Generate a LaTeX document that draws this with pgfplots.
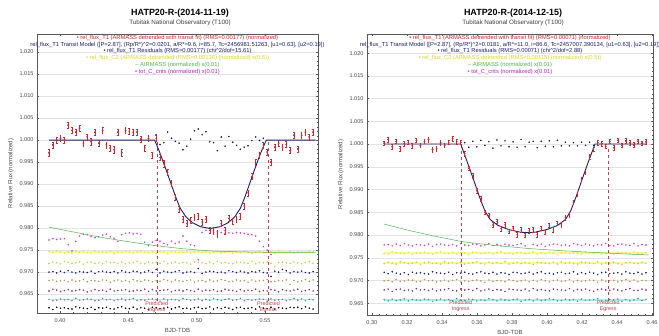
\documentclass[border=0pt]{standalone}
\usepackage{fontspec}
\setmainfont{Liberation Sans}
\usepackage{pgfplots}
\usepackage{pgfplotstable}
\pgfplotsset{compat=1.18}

\definecolor{tred}{RGB}{205,40,45}
\definecolor{tmodel}{RGB}{30,30,110}
\definecolor{tres}{RGB}{20,20,100}
\definecolor{cyel}{RGB}{232,232,20}
\definecolor{cyelband}{RGB}{248,248,160}
\definecolor{cgold}{RGB}{222,196,50}
\definecolor{cnavy}{RGB}{25,25,120}
\definecolor{ctan}{RGB}{170,150,90}
\definecolor{cpur}{RGB}{130,40,140}
\definecolor{cteal}{RGB}{40,160,160}
\definecolor{ctealband}{RGB}{175,235,235}
\definecolor{cmag}{RGB}{210,60,210}
\definecolor{cgreen}{RGB}{80,180,80}
\definecolor{cpred}{RGB}{180,70,70}
\definecolor{legyel}{RGB}{215,215,40}
\definecolor{legmag}{RGB}{170,40,190}

% ---------------- left night (2014-11-19) ----------------
\pgfplotstableread{
x t1 res y1 y2 nv tn pu te bk mg
0.3920 0.9971 0.9971 0.9747 0.9720 0.9700 0.9681 0.9657 0.9638 0.9619 0.9773
0.3948 0.9989 0.9989 0.9744 0.9723 0.9701 0.9682 0.9661 0.9635 0.9615 0.9776
0.3976 1.0000 1.0000 0.9748 0.9721 0.9698 0.9679 0.9659 0.9636 0.9620 0.9774
0.4004 1.0004 1.0004 0.9745 0.9719 0.9702 0.9680 0.9656 0.9639 0.9618 0.9775
0.4032 1.0000 1.0000 0.9743 0.9724 0.9699 0.9681 0.9658 0.9637 0.9619 0.9776
0.4060 1.0034 1.0034 0.9746 0.9722 0.9703 0.9678 0.9660 0.9638 0.9617 0.9762
0.4088 1.0022 1.0022 0.9742 0.9720 0.9700 0.9682 0.9657 0.9635 0.9616 0.9748
0.4116 1.0018 1.0018 0.9747 0.9721 0.9698 0.9679 0.9658 0.9640 0.9621 0.9770
0.4144 1.0027 1.0027 0.9745 0.9723 0.9701 0.9680 0.9660 0.9636 0.9619 0.9782
0.4172 0.9993 0.9993 0.9746 0.9718 0.9700 0.9683 0.9659 0.9637 0.9618 0.9786
0.4200 1.0007 1.0007 0.9744 0.9722 0.9699 0.9678 0.9655 0.9639 0.9617 0.9785
0.4228 0.9996 0.9996 0.9743 0.9723 0.9702 0.9681 0.9657 0.9638 0.9620 0.9781
0.4256 1.0018 1.0018 0.9748 0.9720 0.9697 0.9680 0.9660 0.9635 0.9615 0.9778
0.4284 0.9993 0.9993 0.9746 0.9721 0.9701 0.9679 0.9658 0.9636 0.9619 0.9780
0.4312 1.0022 1.0022 0.9745 0.9719 0.9702 0.9682 0.9659 0.9640 0.9618 0.9784
0.4340 0.9989 0.9989 0.9744 0.9724 0.9700 0.9681 0.9656 0.9637 0.9620 0.9786
0.4368 0.9982 0.9982 0.9747 0.9721 0.9699 0.9677 0.9661 0.9638 0.9617 0.9780
0.4396 0.9978 0.9978 0.9742 0.9722 0.9701 0.9680 0.9657 0.9635 0.9616 0.9777
0.4424 1.0018 1.0018 0.9746 0.9720 0.9698 0.9682 0.9658 0.9637 0.9619 0.9770
0.4452 0.9971 0.9971 0.9745 0.9723 0.9703 0.9679 0.9659 0.9639 0.9621 0.9785
0.4480 1.0022 1.0022 0.9747 0.9719 0.9700 0.9681 0.9660 0.9636 0.9618 0.9788
0.4508 1.0020 1.0020 0.9744 0.9721 0.9699 0.9678 0.9656 0.9638 0.9617 0.9789
0.4536 1.0018 1.0018 0.9743 0.9722 0.9702 0.9683 0.9657 0.9640 0.9620 0.9787
0.4564 1.0018 1.0018 0.9746 0.9724 0.9701 0.9680 0.9659 0.9635 0.9616 0.9788
0.4592 1.0002 1.0002 0.9748 0.9720 0.9698 0.9679 0.9658 0.9637 0.9619 0.9786
0.4620 0.9982 0.9982 0.9745 0.9719 0.9700 0.9682 0.9661 0.9636 0.9618 0.9768
0.4648 1.0004 1.0004 0.9744 0.9723 0.9703 0.9681 0.9656 0.9638 0.9615 0.9760
0.4676 0.9966 0.9966 0.9747 0.9721 0.9699 0.9678 0.9660 0.9639 0.9620 0.9768
0.4704 1.0004 1.0012 0.9743 0.9722 0.9706 0.9680 0.9657 0.9637 0.9619 0.9772
0.4732 0.9960 0.9990 0.9746 0.9720 0.9698 0.9679 0.9658 0.9634 0.9617 0.9770
0.4760 0.9946 0.9994 0.9745 0.9724 0.9702 0.9683 0.9659 0.9639 0.9618 0.9765
0.4788 0.9927 1.0018 0.9742 0.9719 0.9700 0.9681 0.9660 0.9636 0.9620 0.9762
0.4816 0.9902 1.0004 0.9747 0.9721 0.9699 0.9678 0.9655 0.9638 0.9616 0.9770
0.4844 0.9870 0.9997 0.9746 0.9723 0.9701 0.9682 0.9658 0.9637 0.9619 0.9765
0.4872 0.9843 0.9993 0.9744 0.9720 0.9703 0.9680 0.9659 0.9635 0.9621 0.9768
0.4900 0.9820 0.9978 0.9745 0.9722 0.9698 0.9679 0.9657 0.9640 0.9617 0.9782
0.4928 0.9810 0.9986 0.9747 0.9721 0.9700 0.9681 0.9660 0.9638 0.9618 0.9770
0.4956 0.9818 1.0002 0.9743 0.9718 0.9701 0.9682 0.9658 0.9636 0.9616 0.9762
0.4984 0.9825 1.0021 0.9746 0.9723 0.9699 0.9677 0.9656 0.9637 0.9619 0.9760
0.5012 0.9827 1.0025 0.9748 0.9722 0.9708 0.9680 0.9661 0.9639 0.9620 0.9728
0.5040 0.9814 1.0012 0.9744 0.9721 0.9697 0.9681 0.9657 0.9635 0.9617 0.9790
0.5068 0.9820 1.0019 0.9745 0.9720 0.9700 0.9678 0.9659 0.9638 0.9618 0.9795
0.5096 0.9795 0.9996 0.9743 0.9723 0.9702 0.9682 0.9658 0.9636 0.9621 0.9788
0.5124 0.9794 0.9994 0.9746 0.9719 0.9701 0.9679 0.9660 0.9640 0.9616 0.9790
0.5152 0.9787 0.9976 0.9747 0.9724 0.9699 0.9680 0.9656 0.9637 0.9619 0.9792
0.5180 0.9811 1.0007 0.9744 0.9721 0.9700 0.9683 0.9657 0.9635 0.9617 0.9790
0.5208 0.9794 0.9986 0.9745 0.9722 0.9698 0.9681 0.9661 0.9638 0.9620 0.9788
0.5236 0.9822 1.0008 0.9748 0.9720 0.9703 0.9678 0.9659 0.9639 0.9618 0.9789
0.5264 0.9816 0.9995 0.9743 0.9719 0.9701 0.9679 0.9658 0.9636 0.9615 0.9788
0.5292 0.9820 0.9988 0.9746 0.9723 0.9699 0.9682 0.9656 0.9637 0.9619 0.9790
0.5320 0.9827 0.9979 0.9744 0.9722 0.9702 0.9680 0.9660 0.9640 0.9620 0.9789
0.5348 0.9850 0.9984 0.9747 0.9721 0.9700 0.9681 0.9657 0.9635 0.9617 0.9788
0.5376 0.9880 0.9987 0.9745 0.9720 0.9698 0.9677 0.9659 0.9638 0.9618 0.9786
0.5404 0.9917 0.9999 0.9742 0.9724 0.9701 0.9682 0.9658 0.9636 0.9619 0.9785
0.5432 0.9950 1.0007 0.9746 0.9719 0.9700 0.9679 0.9661 0.9637 0.9616 0.9782
0.5460 0.9966 0.9999 0.9747 0.9722 0.9703 0.9680 0.9656 0.9639 0.9621 0.9770
0.5488 0.9989 1.0004 0.9744 0.9721 0.9699 0.9681 0.9658 0.9638 0.9618 0.9758
0.5516 0.9973 0.9973 0.9745 0.9723 0.9698 0.9683 0.9657 0.9634 0.9617 0.9750
0.5544 0.9950 0.9950 0.9746 0.9720 0.9690 0.9678 0.9660 0.9639 0.9620 0.9740
0.5572 0.9984 0.9984 0.9743 0.9712 0.9702 0.9679 0.9659 0.9636 0.9616 nan
0.5600 0.9993 0.9993 0.9748 0.9722 0.9700 0.9681 0.9655 0.9637 0.9619 nan
0.5628 0.9984 0.9984 0.9745 0.9723 0.9706 0.9680 0.9660 0.9638 0.9618 nan
0.5656 0.9990 0.9990 0.9744 0.9721 0.9703 0.9682 0.9658 0.9635 0.9617 nan
0.5684 0.9976 0.9976 0.9747 0.9720 0.9698 0.9672 0.9657 0.9637 0.9620 nan
0.5712 1.0011 1.0011 0.9743 0.9723 0.9701 0.9681 0.9659 0.9640 0.9619 nan
0.5740 0.9980 0.9980 0.9746 0.9721 0.9700 0.9678 0.9661 0.9636 0.9620 nan
0.5768 1.0011 1.0011 0.9745 0.9719 0.9702 0.9680 0.9656 0.9639 0.9617 nan
0.5796 1.0018 1.0018 0.9744 0.9722 0.9699 0.9683 0.9658 0.9635 0.9621 nan
0.5824 1.0007 1.0007 0.9747 0.9724 0.9698 0.9679 0.9660 0.9638 0.9618 nan
0.5852 1.0018 1.0018 0.9746 0.9720 0.9701 0.9682 0.9657 0.9637 0.9616 nan
}\lefttab

\pgfplotstableread{
x m
0.3920 1.0000
0.4693 1.0000
0.4730 0.9972
0.4770 0.9938
0.4810 0.9903
0.4850 0.9868
0.4880 0.9845
0.4920 0.9826
0.4970 0.9812
0.5030 0.9803
0.5100 0.9799
0.5170 0.9803
0.5230 0.9812
0.5280 0.9826
0.5320 0.9845
0.5350 0.9868
0.5390 0.9903
0.5430 0.9938
0.5470 0.9972
0.5510 1.0000
0.5870 1.0000
}\leftmodel

\pgfplotstableread{
x a
0.392 0.9802
0.410 0.9791
0.430 0.9779
0.450 0.9769
0.470 0.9760
0.490 0.9753
0.510 0.9748
0.530 0.9746
0.550 0.9745
0.587 0.9744
}\leftair

% ---------------- right night (2014-12-15) ----------------
\pgfplotstableread{
x t1 res mg y1 y2 nv tn pu te
0.3070 1.0002 1.0002 0.9778 0.9759 0.9737 0.9718 0.9699 0.9679 0.9658
0.3093 1.0010 1.0010 0.9779 0.9758 0.9740 0.9715 0.9700 0.9681 0.9655
0.3116 0.9994 0.9994 0.9776 0.9763 0.9738 0.9719 0.9697 0.9676 0.9659
0.3139 1.0006 1.0006 0.9780 0.9761 0.9736 0.9716 0.9702 0.9680 0.9656
0.3162 0.9990 0.9990 0.9777 0.9760 0.9741 0.9714 0.9698 0.9681 0.9657
0.3185 1.0001 1.0001 0.9781 0.9759 0.9739 0.9717 0.9699 0.9678 0.9660
0.3208 1.0004 1.0004 0.9778 0.9762 0.9737 0.9713 0.9701 0.9679 0.9655
0.3231 0.9996 0.9996 0.9776 0.9757 0.9738 0.9718 0.9700 0.9677 0.9658
0.3254 1.0008 1.0008 0.9779 0.9761 0.9740 0.9716 0.9697 0.9682 0.9657
0.3277 0.9997 0.9997 0.9778 0.9760 0.9735 0.9717 0.9698 0.9679 0.9656
0.3300 1.0006 1.0006 0.9777 0.9762 0.9739 0.9715 0.9702 0.9680 0.9659
0.3323 1.0010 1.0010 0.9780 0.9759 0.9740 0.9714 0.9699 0.9678 0.9658
0.3346 0.9988 0.9988 0.9775 0.9758 0.9737 0.9719 0.9700 0.9681 0.9654
0.3369 0.9990 0.9990 0.9779 0.9761 0.9738 0.9717 0.9697 0.9677 0.9657
0.3392 1.0003 1.0003 0.9780 0.9763 0.9736 0.9716 0.9699 0.9679 0.9659
0.3415 0.9997 0.9997 0.9778 0.9760 0.9741 0.9715 0.9701 0.9680 0.9656
0.3438 1.0004 1.0004 0.9777 0.9759 0.9738 0.9718 0.9698 0.9682 0.9658
0.3461 1.0012 1.0012 0.9779 0.9762 0.9739 0.9713 0.9700 0.9678 0.9655
0.3484 1.0005 1.0005 0.9776 0.9758 0.9737 0.9717 0.9702 0.9677 0.9660
0.3507 1.0004 1.0004 0.9781 0.9761 0.9740 0.9716 0.9697 0.9681 0.9657
0.3530 0.9979 1.0003 0.9778 0.9760 0.9736 0.9718 0.9699 0.9679 0.9656
0.3553 0.9947 0.9993 0.9777 0.9757 0.9738 0.9715 0.9698 0.9680 0.9659
0.3576 0.9930 1.0006 0.9780 0.9762 0.9739 0.9714 0.9700 0.9678 0.9658
0.3599 0.9897 0.9994 0.9779 0.9761 0.9741 0.9717 0.9701 0.9682 0.9655
0.3622 0.9880 1.0008 0.9776 0.9759 0.9737 0.9719 0.9699 0.9677 0.9657
0.3645 0.9850 0.9997 0.9778 0.9760 0.9736 0.9716 0.9696 0.9679 0.9656
0.3668 0.9843 1.0005 0.9781 0.9762 0.9740 0.9715 0.9701 0.9681 0.9660
0.3691 0.9822 0.9991 0.9777 0.9758 0.9738 0.9718 0.9698 0.9678 0.9658
0.3714 0.9830 1.0009 0.9779 0.9761 0.9739 0.9714 0.9700 0.9680 0.9655
0.3737 0.9814 0.9996 0.9776 0.9763 0.9737 0.9717 0.9699 0.9679 0.9659
0.3760 0.9822 1.0007 0.9780 0.9759 0.9741 0.9716 0.9697 0.9676 0.9657
0.3783 0.9808 0.9994 0.9778 0.9760 0.9736 0.9713 0.9702 0.9681 0.9656
0.3806 0.9815 1.0005 0.9777 0.9758 0.9738 0.9718 0.9700 0.9680 0.9658
0.3829 0.9801 0.9993 0.9779 0.9761 0.9740 0.9717 0.9698 0.9679 0.9659
0.3852 0.9811 1.0010 0.9781 0.9762 0.9737 0.9715 0.9699 0.9678 0.9654
0.3875 0.9799 0.9994 0.9776 0.9759 0.9739 0.9716 0.9701 0.9681 0.9657
0.3898 0.9809 1.0004 nan 0.9760 0.9738 0.9718 0.9697 0.9677 0.9658
0.3921 0.9812 1.0006 0.9779 0.9763 0.9735 0.9714 0.9700 0.9682 0.9655
0.3944 0.9801 0.9992 0.9777 0.9758 0.9740 0.9717 0.9698 0.9679 0.9659
0.3967 0.9815 1.0006 0.9780 0.9761 0.9739 0.9719 0.9702 0.9680 0.9656
0.3990 0.9806 0.9995 0.9775 0.9759 0.9738 0.9715 0.9699 0.9678 0.9657
0.4013 0.9821 1.0007 0.9778 0.9762 0.9737 0.9716 0.9697 0.9677 0.9660
0.4036 0.9811 0.9994 0.9780 0.9760 0.9740 0.9714 0.9700 0.9681 0.9658
0.4059 0.9826 1.0008 0.9779 0.9757 0.9736 0.9717 0.9701 0.9680 0.9655
0.4082 0.9823 0.9996 0.9777 0.9761 0.9741 0.9718 0.9698 0.9679 0.9656
0.4105 0.9838 1.0004 0.9778 0.9762 0.9738 0.9715 0.9699 0.9678 0.9659
0.4128 0.9844 0.9996 0.9776 0.9759 0.9739 0.9716 0.9702 0.9682 0.9657
0.4151 0.9872 1.0003 0.9781 0.9760 0.9737 0.9719 0.9697 0.9677 0.9658
0.4174 0.9890 0.9996 0.9779 0.9761 0.9736 0.9714 0.9700 0.9680 0.9654
0.4197 0.9923 1.0004 0.9777 0.9758 0.9740 0.9717 0.9698 0.9679 0.9659
0.4220 0.9938 0.9997 0.9780 0.9763 0.9739 0.9715 0.9699 0.9681 0.9656
0.4243 0.9972 1.0004 0.9778 0.9760 0.9738 0.9718 0.9701 0.9678 0.9657
0.4266 0.9989 0.9997 0.9776 0.9759 0.9737 0.9716 0.9700 0.9676 0.9658
0.4289 1.0003 1.0003 0.9779 0.9762 0.9741 0.9713 0.9696 0.9680 0.9660
0.4312 1.0001 1.0001 0.9778 0.9758 0.9736 0.9717 0.9701 0.9681 0.9655
0.4335 0.9995 0.9995 0.9781 0.9761 0.9739 0.9718 0.9698 0.9679 0.9656
0.4358 1.0006 1.0006 0.9777 0.9760 0.9738 0.9715 0.9699 0.9678 0.9658
0.4381 0.9992 0.9992 0.9776 0.9759 0.9740 0.9716 0.9700 0.9681 0.9657
0.4404 1.0008 1.0008 0.9779 0.9762 0.9737 0.9717 0.9697 0.9679 0.9659
0.4427 0.9997 0.9997 0.9780 0.9761 0.9735 0.9714 0.9699 0.9677 0.9654
0.4450 1.0007 1.0007 0.9778 0.9762 0.9739 0.9719 0.9702 0.9680 0.9658
0.4473 1.0003 1.0003 0.9777 0.9759 0.9740 0.9716 0.9698 0.9682 0.9655
0.4496 0.9998 0.9998 0.9781 0.9763 0.9738 0.9715 0.9701 0.9678 0.9657
0.4519 1.0006 1.0006 0.9776 0.9760 0.9737 0.9718 0.9697 0.9678 0.9660
0.4542 1.0002 1.0002 0.9779 0.9758 0.9740 0.9714 0.9700 0.9681 0.9656
0.4565 1.0005 1.0005 0.9778 0.9761 0.9738 0.9717 0.9699 0.9679 0.9659
}\righttab

\pgfplotstableread{
x m
0.3070 1.0000
0.3507 1.0000
0.3545 0.9960
0.3580 0.9922
0.3615 0.9883
0.3645 0.9853
0.3675 0.9834
0.3720 0.9821
0.3780 0.9812
0.3850 0.9806
0.3890 0.9805
0.3930 0.9806
0.4000 0.9812
0.4060 0.9821
0.4105 0.9834
0.4135 0.9853
0.4165 0.9883
0.4200 0.9922
0.4235 0.9960
0.4274 1.0000
0.4565 1.0000
}\rightmodel

\pgfplotstableread{
x a
0.307 0.9824
0.320 0.9811
0.335 0.9798
0.352 0.9785
0.370 0.9777
0.390 0.9770
0.410 0.9765
0.435 0.9760
0.458 0.9756
}\rightair

\pgfplotsset{
  lcstyle/.style={
    scale only axis, clip mode=individual,
    axis line style={gray!70!black, line width=0.4pt},
    tick style={gray!70!black, line width=0.3pt},
    major tick length=2.5pt, minor tick length=1.3pt,
    ymajorgrids, grid style={gray!22, line width=0.4pt},
    minor x tick num=4, minor y tick num=4,
    ytick={0.965,0.970,0.975,0.980,0.985,0.990,0.995,1.000,1.005,1.010,1.015,1.020},
    scaled ticks=false,
    /pgf/number format/assume math mode=true,
    yticklabel style={/pgf/number format/fixed, /pgf/number format/fixed zerofill, /pgf/number format/precision=3},
    xticklabel style={/pgf/number format/fixed, /pgf/number format/fixed zerofill, /pgf/number format/precision=2, yshift=-2pt},
    tick label style={font=\fontsize{5.6}{6}\selectfont, text=gray!60!black},
    label style={font=\fontsize{6}{7}\selectfont, text=gray!60!black},
    xlabel={BJD-TDB}, ylabel={Relative Flux (normalized)},
    xlabel style={yshift=0.5pt},
    ylabel style={yshift=-1pt},
  },
  dots/.style={only marks, mark=*, mark size=0.55pt, #1, mark options={draw=#1, fill=#1}},
}

\newcommand{\legL}{%
{\color{tred}\textbullet\ rel\_flux\_T1 (ARMASS detrended with transit fit) (RMS=0.00177) (normalized)}\\
{\color{tmodel}rel\_flux\_T1 Transit Model ([P=2.87], (Rp/R*)\^{}2=0.0201, a/R*=9.6, i=85.7, Tc=2456981.51263, [u1=0.63], [u2=0.19])}\\
{\color{tmodel}\textbullet\ rel\_flux\_T1 Residuals (RMS=0.00177) (chi\^{}2/dof=15.61)}\\
{\color{legyel}\textbullet\ rel\_flux\_C2 (ARMASS detrended (RMS=0.00136) (normalized) x(0.5))}\\
{\color{cgreen}-- AIRMASS (normalized) x(0.01)}\\
{\color{legmag}\textbullet\ tot\_C\_cnts (normalized) x(0.01)}}

\newcommand{\legR}{%
{\color{tred}\textbullet\ rel\_flux\_T1 (ARMASS detrended with transit fit) (RMS=0.00071) (normalized)}\\
{\color{tmodel}rel\_flux\_T1 Transit Model ([P=2.87], (Rp/R*)\^{}2=0.0181, a/R*=11.0, i=86.6, Tc=2457007.390134, [u1=0.63], [u2=0.19])}\\
{\color{tmodel}\textbullet\ rel\_flux\_T1 Residuals (RMS=0.00071) (chi\^{}2/dof=2.88)}\\
{\color{legyel}\textbullet\ rel\_flux\_C2 (ARMASS detrended (RMS=0.00115) (normalized) x(0.5))}\\
{\color{cgreen}-- AIRMASS (normalized) x(0.01)}\\
{\color{legmag}\textbullet\ tot\_C\_cnts (normalized) x(0.01)}}

\begin{document}
\begin{tikzpicture}
\useasboundingbox (0bp,0bp) rectangle (659bp,336bp);
\fill[white] (0bp,0bp) rectangle (659bp,336bp);

% ================= LEFT =================
\begin{scope}
\clip (0bp,0bp) rectangle (331bp,336bp);
\node[font=\bfseries\fontsize{9}{10}\selectfont] at (180bp,323bp) {HATP20-R-(2014-11-19)};
\node[font=\fontsize{6.3}{7}\selectfont, text=gray!50!black] at (180bp,313.5bp) {Tubitak National Observatory (T100)};
\begin{axis}[lcstyle, at={(37bp,23bp)}, anchor=south west, width=281bp, height=279bp,
  xmin=0.3832, xmax=0.5888, ymin=0.9607, ymax=1.0241,
  xtick={0.40,0.45,0.50,0.55}]
  \addplot[cyelband, line width=1.6pt] coordinates {(0.392,0.9745) (0.586,0.9745)};
  \addplot[ctealband, line width=1.2pt] coordinates {(0.392,0.9637) (0.586,0.9637)};
  \addplot[dots=cyel] table[x=x,y=y1]{\lefttab};
  \addplot[dots=cgold] table[x=x,y=y2]{\lefttab};
  \addplot[dots=cnavy] table[x=x,y=nv]{\lefttab};
  \addplot[dots=ctan] table[x=x,y=tn]{\lefttab};
  \addplot[dots=cpur] table[x=x,y=pu]{\lefttab};
  \addplot[dots=cteal] table[x=x,y=te]{\lefttab};
  \addplot[dots=black] table[x=x,y=bk]{\lefttab};
  \addplot[dots=cmag] table[x=x,y=mg]{\lefttab};
  \addplot[cgreen, line width=0.5pt] table[x=x,y=a]{\leftair};
  \addplot[cpred, dashed, line width=0.4pt] coordinates {(0.4708,0.9995) (0.4708,0.9632)};
  \addplot[cpred, dashed, line width=0.4pt] coordinates {(0.5526,0.9995) (0.5526,0.9632)};
  \addplot[dots=tres] table[x=x,y=res]{\lefttab};
  \addplot[tmodel, line width=0.9pt] table[x=x,y=m]{\leftmodel};
  \addplot[only marks, mark=*, mark size=0.5pt, color=tred,
    error bars/.cd, y dir=both, y fixed=0.0007,
    error bar style={line width=0.5pt, tred},
    error mark options={rotate=90, mark size=0.9pt, tred, line width=0.5pt}]
    table[x=x,y=t1]{\lefttab};
  \node[align=center, font=\fontsize{5.4}{5.6}\selectfont, text=cpred, inner sep=0pt] at (axis cs:0.4708,0.9620) {Predicted\\Ingress};
  \node[align=center, font=\fontsize{5.4}{5.6}\selectfont, text=cpred, inner sep=0pt] at (axis cs:0.5526,0.9620) {Predicted\\Egress};
  \node[anchor=north, align=center, font=\fontsize{5.8}{6.8}\selectfont, inner sep=1pt] at (rel axis cs:0.5,1) {\legL};
\end{axis}
\end{scope}

% ================= RIGHT =================
\begin{scope}
\clip (331bp,0bp) rectangle (659bp,336bp);
\node[font=\bfseries\fontsize{9}{10}\selectfont] at (513bp,323bp) {HATP20-R-(2014-12-15)};
\node[font=\fontsize{6.3}{7}\selectfont, text=gray!50!black] at (513bp,313.5bp) {Tubitak National Observatory (T100)};
\begin{axis}[lcstyle, at={(367bp,21bp)}, anchor=south west, width=286bp, height=281bp,
  xmin=0.2972, xmax=0.4605, ymin=0.9624, ymax=1.0242,
  xtick={0.30,0.32,0.34,0.36,0.38,0.40,0.42,0.44,0.46}]
  \addplot[cyelband, line width=1.6pt] coordinates {(0.307,0.9760) (0.4565,0.9760)};
  \addplot[cyelband, line width=1.4pt] coordinates {(0.307,0.9738) (0.4565,0.9738)};
  \addplot[ctealband, line width=1.2pt] coordinates {(0.307,0.9657) (0.4565,0.9657)};
  \addplot[dots=cmag] table[x=x,y=mg]{\righttab};
  \addplot[dots=cyel] table[x=x,y=y1]{\righttab};
  \addplot[dots=cgold] table[x=x,y=y2]{\righttab};
  \addplot[dots=cnavy] table[x=x,y=nv]{\righttab};
  \addplot[dots=ctan] table[x=x,y=tn]{\righttab};
  \addplot[dots=cpur] table[x=x,y=pu]{\righttab};
  \addplot[dots=cteal] table[x=x,y=te]{\righttab};
  \addplot[cgreen, line width=0.5pt] table[x=x,y=a]{\rightair};
  \addplot[cpred, dashed, line width=0.4pt] coordinates {(0.3507,0.9998) (0.3507,0.9655)};
  \addplot[cpred, dashed, line width=0.4pt] coordinates {(0.4349,0.9990) (0.4349,0.9655)};
  \addplot[dots=tres] table[x=x,y=res]{\righttab};
  \addplot[tmodel, line width=0.9pt] table[x=x,y=m]{\rightmodel};
  \addplot[only marks, mark=*, mark size=0.5pt, color=tred,
    error bars/.cd, y dir=both, y fixed=0.0005,
    error bar style={line width=0.5pt, tred},
    error mark options={rotate=90, mark size=0.9pt, tred, line width=0.5pt}]
    table[x=x,y=t1]{\righttab};
  \node[align=center, font=\fontsize{5.4}{5.6}\selectfont, text=cpred, inner sep=0pt] at (axis cs:0.3507,0.9644) {Predicted\\Ingress};
  \node[align=center, font=\fontsize{5.4}{5.6}\selectfont, text=cpred, inner sep=0pt] at (axis cs:0.4349,0.9644) {Predicted\\Egress};
  \node[anchor=north, align=center, font=\fontsize{5.8}{6.8}\selectfont, inner sep=1pt] at (rel axis cs:0.5,1) {\legR};
\end{axis}
\end{scope}
\end{tikzpicture}
\end{document}
